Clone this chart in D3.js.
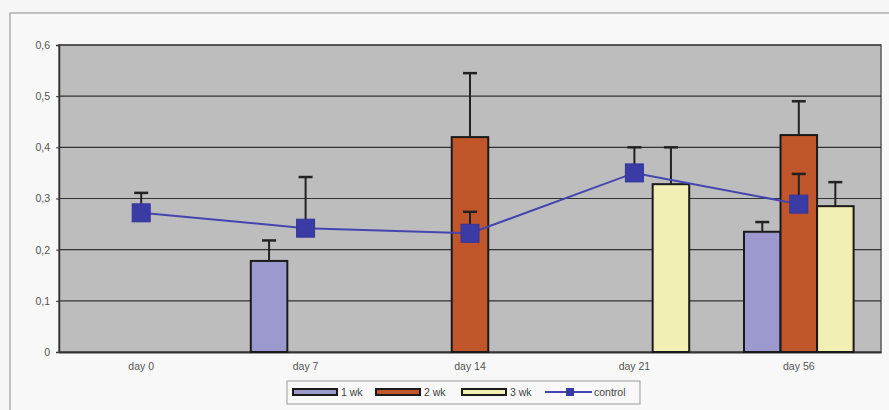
<!DOCTYPE html>
<html><head><meta charset="utf-8">
<script src="https://cdn.jsdelivr.net/npm/d3@7"></script>
<style>html,body{margin:0;padding:0;background:#f6f6f6;}svg{display:block;}</style>
</head><body>
<svg id="c" width="889" height="410"></svg>
<script>
const categories = ["day 0","day 7","day 14","day 21","day 56"];
const seriesNames = ["1 wk","2 wk","3 wk"];
const wk1 = [null, 0.178, null, null, 0.235];
const wk1Err = [null, 0.040, null, null, 0.019];
const wk2 = [null, null, 0.420, null, 0.424];
const wk2Err = [null, null, 0.125, null, 0.066];
const wk3 = [null, null, null, 0.328, 0.285];
const wk3Err = [null, null, null, 0.072, 0.047];
const control = [0.272, 0.242, 0.232, 0.350, 0.289];
const controlErr = [0.039, 0.100, 0.042, 0.050, 0.059];
const yTicks = [0, 0.1, 0.2, 0.3, 0.4, 0.5, 0.6];
const colors = ["#9c99cf", "#c2562b", "#f1efb4"];

const FONT = "Liberation Sans, Arial, sans-serif";
const svg = d3.select("#c");
const L = 59, T = 45, R = 881, B = 352;
svg.append("rect").attr("x",10).attr("y",13).attr("width",900).attr("height",420)
  .attr("fill","#f8f8f8").attr("stroke","#8a8a8a").attr("stroke-width",1);

const x = d3.scaleBand().domain(categories).range([L,R]).paddingInner(0).paddingOuter(0);
const y = d3.scaleLinear().domain([0,0.6]).range([B,T]);
const bw = x.bandwidth()/(3+1.5);
const xs = d3.scaleBand().domain(seriesNames).range([0, bw*3]);

svg.append("rect").attr("x",L).attr("y",T).attr("width",R-L).attr("height",B-T)
  .attr("fill","#bdbdbd").attr("stroke","#5a5a5a").attr("stroke-width",1.5);

svg.append("g").selectAll("line").data(yTicks.filter(d=>d>0)).join("line")
  .attr("x1",L).attr("x2",R).attr("y1",d=>y(d)).attr("y2",d=>y(d))
  .attr("stroke","#333").attr("stroke-width",1.2);

const yAxis = d3.axisLeft(y).tickValues(yTicks).tickSize(3)
  .tickFormat(d=> d===0 ? "0" : d3.format(".1f")(d).replace(".",","));
const ga = svg.append("g").attr("transform",`translate(${L},0)`).call(yAxis);
ga.select(".domain").attr("stroke","#333").attr("stroke-width",1.5);
ga.selectAll(".tick line").attr("stroke","#333");
ga.selectAll("text").attr("font-family",FONT).attr("font-size",10.5).attr("fill","#555").attr("x",-9);

const xAxis = d3.axisBottom(x).tickSize(0);
const gx = svg.append("g").attr("transform",`translate(0,${B})`).call(xAxis);
gx.select(".domain").attr("stroke","#333").attr("stroke-width",2);
gx.selectAll("text").attr("font-family",FONT).attr("font-size",10.5).attr("fill","#555").attr("dy","1.45em");

const series = [[wk1,wk1Err],[wk2,wk2Err],[wk3,wk3Err]];
const barX = (ci, si) => x(categories[ci]) + bw*0.75 + xs(seriesNames[si]);

series.forEach(([vals, errs], si) => {
  const data = vals.map((v,i)=>({v, e:errs[i], i})).filter(d=>d.v!==null);
  const g = svg.append("g");
  g.selectAll("rect").data(data).join("rect")
    .attr("x", d=>barX(d.i,si)).attr("y", d=>y(d.v))
    .attr("width", xs.bandwidth()).attr("height", d=>B-y(d.v))
    .attr("fill", colors[si]).attr("stroke","#1a1a1a").attr("stroke-width",2);
  const cx = d => barX(d.i,si) + xs.bandwidth()/2;
  g.selectAll("line.e").data(data).join("line")
    .attr("x1",cx).attr("x2",cx).attr("y1",d=>y(d.v)).attr("y2",d=>y(d.v+d.e))
    .attr("stroke","#222").attr("stroke-width",2);
  g.selectAll("line.c").data(data).join("line")
    .attr("x1",d=>cx(d)-7).attr("x2",d=>cx(d)+7).attr("y1",d=>y(d.v+d.e)).attr("y2",d=>y(d.v+d.e))
    .attr("stroke","#222").attr("stroke-width",2.5);
});

const cdata = control.map((v,i)=>({v, e:controlErr[i], i}));
const ccx = d => x(categories[d.i]) + x.bandwidth()/2;
svg.append("path").datum(cdata)
  .attr("d", d3.line().x(ccx).y(d=>y(d.v)))
  .attr("fill","none").attr("stroke","#4545b0").attr("stroke-width",2);
const cg = svg.append("g");
cg.selectAll("line.e").data(cdata).join("line")
  .attr("x1",ccx).attr("x2",ccx).attr("y1",d=>y(d.v)).attr("y2",d=>y(d.v+d.e))
  .attr("stroke","#222").attr("stroke-width",2);
cg.selectAll("line.c").data(cdata).join("line")
  .attr("x1",d=>ccx(d)-7).attr("x2",d=>ccx(d)+7).attr("y1",d=>y(d.v+d.e)).attr("y2",d=>y(d.v+d.e))
  .attr("stroke","#222").attr("stroke-width",2.5);
cg.selectAll("rect").data(cdata).join("rect")
  .attr("x",d=>ccx(d)-9).attr("y",d=>y(d.v)-9).attr("width",18).attr("height",18)
  .attr("fill","#3b3ba6").attr("stroke","#34349a").attr("stroke-width",1);

const lg = svg.append("g").attr("font-family",FONT).attr("font-size",10.5).attr("fill","#444");
lg.append("rect").attr("x",287).attr("y",381).attr("width",353).attr("height",23)
  .attr("fill","#f8f8f8").attr("stroke","#999").attr("stroke-width",1);
const legX = [293, 376, 462];
seriesNames.forEach((n,i)=>{
  lg.append("rect").attr("x",legX[i]).attr("y",389).attr("width",44).attr("height",6)
    .attr("fill",colors[i]).attr("stroke","#1a1a1a").attr("stroke-width",2);
  lg.append("text").attr("x",legX[i]+48).attr("y",396).text(n);
});
lg.append("line").attr("x1",545).attr("x2",592).attr("y1",392).attr("y2",392).attr("stroke","#4545b0").attr("stroke-width",2);
lg.append("rect").attr("x",566).attr("y",388).attr("width",8).attr("height",8).attr("fill","#3b3ba6");
lg.append("text").attr("x",594).attr("y",396).text("control");
</script>
</body></html>
